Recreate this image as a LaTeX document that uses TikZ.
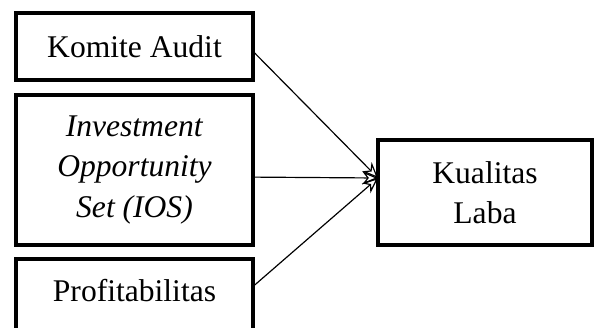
\documentclass[tikz,border=0pt]{standalone}
\usepackage{fontspec}
\setmainfont{Liberation Serif}
\usepackage{tikz}
\usetikzlibrary{arrows.meta}

\begin{document}
\begin{tikzpicture}[x=0.38pt,y=-0.38pt,
	varbox/.style={draw,line width=1.4pt,minimum width=90pt,align=center,
		inner sep=0pt,font=\fontsize{12}{15.4}\selectfont},
	arr/.style={line width=0.45pt,-{Stealth[open,length=6pt,width=5pt]}}]
	\useasboundingbox (0,0) rectangle (600,327);
	
	%independent variables
	\node[varbox,minimum height=25.5pt] (ka) at (134.5,46.5) {Komite Audit};
	\node[varbox,minimum height=57pt] (ios) at (134.5,170) {\textit{Investment}\\ \textit{Opportunity}\\ \textit{Set (IOS)}};
	\node[varbox,minimum height=28pt,text depth=4pt] (prof) at (134.5,296) {Profitabilitas};
	
	%dependent variable
	\node[varbox,minimum width=81.3pt,minimum height=40pt] (kl) at (485,192.5) {Kualitas\\ Laba};
	\coordinate (tgt) at (378,178);
	
	\draw[arr] ([yshift=-2.5pt]ka.east) -- (tgt);
	\draw[arr] ([yshift=-2.7pt]ios.east) -- (tgt);
	\draw[arr] ([yshift=4.2pt]prof.east) -- (tgt);
\end{tikzpicture}
\end{document}
